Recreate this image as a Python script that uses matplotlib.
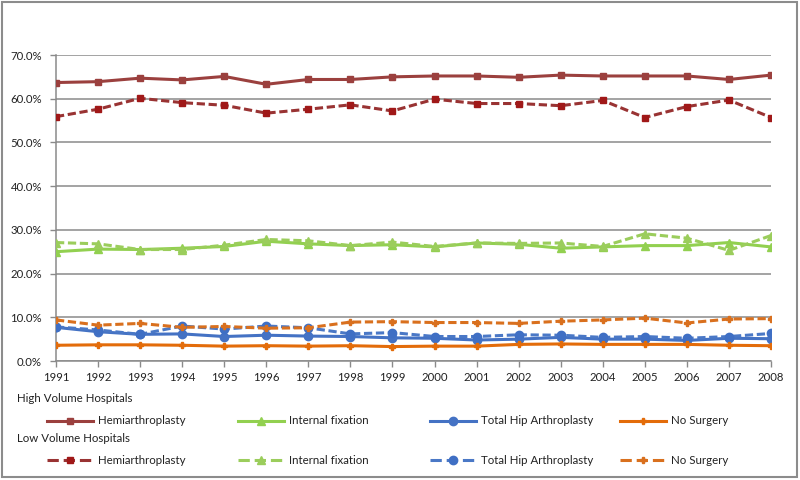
import matplotlib
matplotlib.use("Agg")
import matplotlib.pyplot as plt
from matplotlib.lines import Line2D
from matplotlib.patches import Rectangle
from matplotlib.ticker import FuncFormatter

plt.rcParams['font.family'] = ['Lato', 'DejaVu Sans']

years = list(range(1991, 2009))

high_hemi = [63.7, 63.9, 64.7, 64.3, 65.1, 63.3, 64.4, 64.4, 65.0, 65.2, 65.2, 64.9, 65.4, 65.2, 65.2, 65.2, 64.4, 65.4]
low_hemi = [55.9, 57.6, 60.1, 59.1, 58.5, 56.7, 57.6, 58.6, 57.2, 59.9, 58.9, 58.9, 58.4, 59.6, 55.7, 58.2, 59.7, 55.7]
high_if = [25.0, 25.6, 25.5, 25.8, 26.2, 27.4, 26.8, 26.4, 26.6, 26.1, 27.0, 26.7, 25.8, 26.1, 26.4, 26.4, 27.1, 26.1]
low_if = [27.1, 26.8, 25.5, 25.5, 26.5, 27.8, 27.5, 26.4, 27.2, 26.2, 27.0, 26.9, 27.0, 26.2, 29.1, 28.1, 25.3, 28.7]
high_tha = [7.7, 6.7, 6.1, 6.2, 5.6, 5.9, 5.7, 5.6, 5.3, 5.2, 4.8, 5.0, 5.4, 5.0, 5.0, 4.7, 5.2, 5.1]
low_tha = [7.8, 7.1, 6.1, 8.0, 7.3, 8.0, 7.6, 6.2, 6.5, 5.6, 5.6, 6.0, 5.9, 5.4, 5.6, 5.2, 5.6, 6.3]
high_ns = [3.6, 3.7, 3.7, 3.6, 3.4, 3.5, 3.4, 3.5, 3.3, 3.4, 3.4, 3.8, 3.9, 3.8, 3.8, 3.8, 3.6, 3.5]
low_ns = [9.4, 8.2, 8.6, 7.7, 7.9, 7.5, 7.6, 8.9, 9.0, 8.8, 8.8, 8.6, 9.1, 9.4, 9.8, 8.7, 9.6, 9.7]

names = ["Hemiarthroplasty", "Internal fixation", "Total Hip Arthroplasty", "No Surgery"]
high_series = [high_hemi, high_if, high_tha, high_ns]
low_series = [low_hemi, low_if, low_tha, low_ns]
markers = ["s", "^", "o", "P"]
high_colors = ["#9B403E", "#92D050", "#4472C4", "#E36C0A"]
low_colors = ["#993333", "#9BCD5C", "#4A78C6", "#D9701E"]
low_mcolors = ["#A01818", "#9BCD5C", "#3F6FC4", "#D9701E"]
msizes = [5, 6, 6, 4.5]

fig = plt.figure(figsize=(8, 4.8), dpi=100)
ax = fig.add_axes([56/800, 1-361/480, (771-56)/800, (361-55)/480])

LW = 2.2
DASH = (0, (2.7, 1.2))
high_lines = []
low_lines = []
for i in range(4):
    mk = markers[i]
    l1, = ax.plot(years, high_series[i], color=high_colors[i], lw=LW, marker=mk,
                  ms=msizes[i], mfc=high_colors[i], mec=high_colors[i], zorder=3)
    l2, = ax.plot(years, low_series[i], color=low_colors[i], lw=LW, ls=DASH,
                  marker=mk, ms=msizes[i], mfc=low_mcolors[i], mec=low_mcolors[i], zorder=3)
    high_lines.append(l1)
    low_lines.append(l2)

ax.set_xlim(1991, 2008)
ax.set_ylim(0, 70)
ax.set_xticks(years)
ax.set_yticks(range(0, 71, 10))
ax.yaxis.set_major_formatter(FuncFormatter(lambda v, p: f"{v:.1f}%"))
ax.grid(axis='y', color='#8a8a8a', lw=1.1)
ax.set_axisbelow(True)
for s in ['top', 'right']:
    ax.spines[s].set_visible(False)
for s in ['left', 'bottom']:
    ax.spines[s].set_color('#8a8a8a')
    ax.spines[s].set_linewidth(1.1)
ax.tick_params(axis='both', colors='#8a8a8a', labelcolor='#222222', labelsize=8.2, length=4, width=1)
ax.tick_params(axis='x', pad=4)
ax.tick_params(axis='y', pad=6)

# Legend (drawn in figure pixel coordinates)
W, H = 800, 480
def fx(x):
    return x / W
def fy(y):
    return 1 - y / H

LFS = 8.3
fig.text(fx(17), fy(399), "High Volume Hospitals", fontsize=LFS, color='#222222', va='center', ha='left')
fig.text(fx(17), fy(439), "Low Volume Hospitals", fontsize=LFS, color='#222222', va='center', ha='left')
col_x = [47, 238, 430, 620]
for row, (lines, yy) in enumerate([(high_lines, 421), (low_lines, 460)]):
    for i, ln in enumerate(lines):
        x0 = col_x[i]
        lh = Line2D([fx(x0), fx(x0 + 46)], [fy(yy), fy(yy)], transform=fig.transFigure,
                    color=ln.get_color(), lw=ln.get_linewidth(), ls=ln.get_linestyle())
        fig.add_artist(lh)
        mh = Line2D([fx(x0 + 23)], [fy(yy)], transform=fig.transFigure, ls='none',
                    marker=ln.get_marker(), ms=ln.get_markersize(), mfc=ln.get_markerfacecolor(),
                    mec=ln.get_markeredgecolor())
        fig.add_artist(mh)
        fig.text(fx(x0 + 51), fy(yy), names[i], fontsize=LFS, color='#222222', va='center', ha='left')

fig.add_artist(Rectangle((fx(2), fy(477)), fx(795), 475/480, transform=fig.transFigure,
                         fill=False, ec='#8c8c8c', lw=1.5))

fig.savefig("out.png", dpi=100)
